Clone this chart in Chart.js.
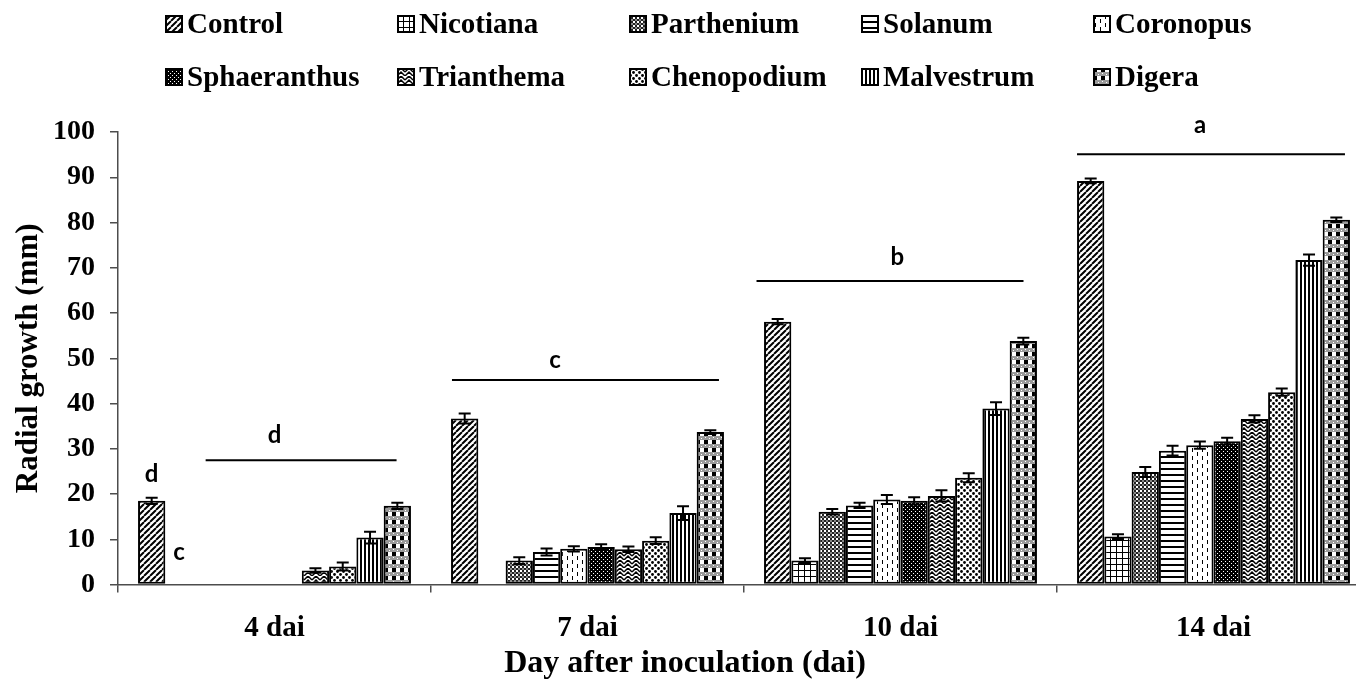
<!DOCTYPE html>
<html>
<head>
<meta charset="utf-8">
<script src="https://cdn.jsdelivr.net/npm/chart.js@4.4.1/dist/chart.umd.min.js"></script>
<style>
html,body{margin:0;padding:0;background:#fff;overflow:hidden;width:1356px;height:683px;}
#wrap{position:relative;width:1380px;height:683px;}
#chart{position:absolute;left:0;top:0;}
#legend{position:absolute;left:165px;top:-3px;display:grid;grid-template-columns:repeat(5,232px);grid-auto-rows:53px;z-index:2;}
.li{display:flex;align-items:center;white-space:nowrap;font:bold 29px "Liberation Serif","Times New Roman",serif;color:#000;}
.li canvas{margin-right:4px;display:block;}
</style>
</head>
<body>
<div id="wrap">
  <div id="legend"></div>
  <canvas id="chart" width="1380" height="683"></canvas>
</div>
<script>
// ---------------- DATA ----------------
const categories = ['4 dai', '7 dai', '10 dai', '14 dai'];
const seriesNames = ['Control','Nicotiana','Parthenium','Solanum','Coronopus','Sphaeranthus','Trianthema','Chenopodium','Malvestrum','Digera'];

const control      = [18.5, 36.7, 58.1, 89.2];
const nicotiana    = [0,    0,    5.3,  10.6];
const parthenium   = [0,    5.3,  16.1, 24.9];
const solanum      = [0,    7.2,  17.5, 29.6];
const coronopus    = [0,    7.9,  18.8, 30.8];
const sphaeranthus = [0,    8.3,  18.5, 31.7];
const trianthema   = [3.1,  7.8,  19.6, 36.6];
const chenopodium  = [4.0,  9.7,  23.6, 42.5];
const malvestrum   = [10.4, 15.8, 38.9, 71.7];
const digera       = [17.4, 33.7, 53.8, 80.6];

const controlErr      = [0.7, 1.1, 0.6, 0.5];
const nicotianaErr    = [0,   0,   0.5, 0.5];
const partheniumErr   = [0,   0.75,0.6, 1.1];
const solanumErr      = [0,   0.75,0.6, 1.1];
const coronopusErr    = [0,   0.6, 1.0, 0.8];
const sphaeranthusErr = [0,   0.6, 0.8, 0.75];
const trianthemaErr   = [0.5, 0.6, 1.25,0.8];
const chenopodiumErr  = [0.9, 0.75,1.0, 0.8];
const malvestrumErr   = [1.3, 1.5, 1.4, 1.25];
const digeraErr       = [0.7, 0.4, 0.75,0.5];

const yTickValues = [0,10,20,30,40,50,60,70,80,90,100];

// significance letters (y values in data units)
const groupLetters      = ['d', 'c', 'b', 'a'];
const groupLineValues   = [27.5, 45.2, 67.1, 95.1];
const groupLetterValues = [31.3, 47.8, 70.6, 99.7];
const barLetters      = ['d', 'c'];          // over 4 dai Control / Nicotiana
const barLetterValues = [22.6, 5.4];

// ---------------- LAYOUT / STYLE ----------------
const seriesValues = [control,nicotiana,parthenium,solanum,coronopus,sphaeranthus,trianthema,chenopodium,malvestrum,digera];
const seriesErrors = [controlErr,nicotianaErr,partheniumErr,solanumErr,coronopusErr,sphaeranthusErr,trianthemaErr,chenopodiumErr,malvestrumErr,digeraErr];
const patternKinds = ['diag','grid','check','hlines','dashes','darkdots','zigzag','dots','vlines','plaid'];
const lineSpans = [[-0.22,0.39],[-0.433,0.42],[-0.46,0.393],[-0.436,0.42]];
const letterShift = [0,-0.104,-0.01,-0.043];
const barLetterSeries = [0,1];
const SERIF = '"Liberation Serif","Times New Roman",serif';

function drawTile(kind){
  const c = document.createElement('canvas');
  const sizes = {diag:[6,6],grid:[6,6],check:[4,4],hlines:[4,6],dashes:[10,8],darkdots:[4,4],zigzag:[8,8],dots:[6,6],vlines:[4,2],plaid:[8,8]};
  const [w,h] = sizes[kind];
  c.width=w; c.height=h;
  const g=c.getContext('2d');
  g.fillStyle='#fff'; g.fillRect(0,0,w,h);
  g.fillStyle='#000'; g.strokeStyle='#000';
  switch(kind){
    case 'diag':
      g.lineWidth=2;
      g.beginPath();
      for(const k of [-6,0,6]){ g.moveTo(k,6); g.lineTo(k+6,0); }
      g.stroke(); break;
    case 'grid':
      g.fillRect(0,0,6,1); g.fillRect(0,0,1,6); break;
    case 'check':
      g.fillStyle='#222'; g.fillRect(0,0,2,2); g.fillRect(2,2,2,2);
      g.fillStyle='#888'; g.fillRect(2,0,2,2); break;
    case 'hlines':
      g.fillRect(0,0,4,2); break;
    case 'dashes':
      g.fillRect(2,0,1,4); g.fillRect(7,4,1,4); break;
    case 'darkdots':
      g.fillRect(0,0,4,4); g.fillStyle='#fff'; g.fillRect(1,1,1,1); g.fillRect(3,3,1,1); break;
    case 'zigzag':
      g.lineWidth=1.5; g.beginPath();
      g.moveTo(0,4); g.lineTo(4,0); g.lineTo(8,4);
      g.moveTo(0,8); g.lineTo(4,4); g.lineTo(8,8);
      g.stroke(); break;
    case 'dots':
      g.beginPath(); g.arc(1.5,1.5,1.4,0,Math.PI*2); g.fill();
      g.beginPath(); g.arc(4.5,4.5,1.4,0,Math.PI*2); g.fill(); break;
    case 'vlines':
      g.fillRect(0,0,2,2); break;
    case 'plaid':
      g.fillStyle='#9a9a9a'; g.fillRect(0,0,8,8);
      g.fillStyle='#000'; g.fillRect(0,0,4,4);
      g.fillStyle='#fff'; g.fillRect(4,0,4,4);
      g.fillStyle='#fff'; g.fillRect(1,5,1,1); g.fillRect(5,6,1,1); break;
  }
  return c;
}

const mainCtx = document.getElementById('chart').getContext('2d');
const patterns = patternKinds.map(k => mainCtx.createPattern(drawTile(k),'repeat'));

const datasets = seriesNames.map((name,i)=>({
  label: name,
  data: seriesValues[i],
  errors: seriesErrors[i],
  backgroundColor: patterns[i],
  borderColor: '#000',
  borderWidth: 2,
  borderSkipped: false,
  patternKind: patternKinds[i]
}));

const errorBarPlugin = {
  id:'errorBars',
  afterDatasetsDraw(chart){
    const ctx=chart.ctx, y=chart.scales.y;
    ctx.save();
    ctx.strokeStyle='#000'; ctx.lineWidth=2;
    chart.data.datasets.forEach((ds,i)=>{
      const meta=chart.getDatasetMeta(i);
      meta.data.forEach((el,j)=>{
        const v=ds.data[j], e=ds.errors[j];
        if(!e) return;
        const x=el.x, t=y.getPixelForValue(v+e), b=y.getPixelForValue(v-e), hw=6;
        ctx.beginPath();
        ctx.moveTo(x,t); ctx.lineTo(x,b);
        ctx.moveTo(x-hw,t); ctx.lineTo(x+hw,t);
        ctx.moveTo(x-hw,b); ctx.lineTo(x+hw,b);
        ctx.stroke();
      });
    });
    ctx.restore();
  }
};

const lettersPlugin = {
  id:'sigLetters',
  afterDatasetsDraw(chart){
    const ctx=chart.ctx, xs=chart.scales.x, ys=chart.scales.y;
    const cw = xs.getPixelForValue(1)-xs.getPixelForValue(0);
    ctx.save();
    ctx.strokeStyle='#000'; ctx.fillStyle='#000'; ctx.lineWidth=2;
    ctx.font='bold 24px Lato, "Open Sans", sans-serif';
    ctx.textAlign='center'; ctx.textBaseline='alphabetic';
    categories.forEach((c,i)=>{
      const cx=xs.getPixelForValue(i);
      const ly=ys.getPixelForValue(groupLineValues[i]);
      ctx.beginPath();
      ctx.moveTo(cx+lineSpans[i][0]*cw, ly);
      ctx.lineTo(cx+lineSpans[i][1]*cw, ly);
      ctx.stroke();
      ctx.fillText(groupLetters[i], cx+letterShift[i]*cw, ys.getPixelForValue(groupLetterValues[i]));
    });
    barLetters.forEach((t,k)=>{
      const el=chart.getDatasetMeta(barLetterSeries[k]).data[0];
      ctx.fillText(t, el.x, ys.getPixelForValue(barLetterValues[k]));
    });
    ctx.restore();
  }
};

const htmlLegendPlugin = {
  id:'htmlLegend',
  afterInit(chart){
    const box=document.getElementById('legend');
    box.innerHTML='';
    chart.data.datasets.forEach(ds=>{
      const item=document.createElement('div'); item.className='li';
      const sw=document.createElement('canvas'); sw.width=18; sw.height=18;
      const g=sw.getContext('2d');
      g.fillStyle=g.createPattern(drawTile(ds.patternKind),'repeat');
      g.fillRect(0,0,18,18);
      g.strokeStyle='#000'; g.lineWidth=2; g.strokeRect(1,1,16,16);
      const tx=document.createElement('span'); tx.textContent=ds.label;
      item.appendChild(sw); item.appendChild(tx); box.appendChild(item);
    });
  }
};

new Chart(mainCtx, {
  type:'bar',
  data:{labels:categories, datasets},
  plugins:[errorBarPlugin, lettersPlugin, htmlLegendPlugin],
  options:{
    responsive:false,
    animation:false,
    layout:{padding:{top:132,right:10,left:0,bottom:0}},
    datasets:{bar:{categoryPercentage:0.872,barPercentage:1}},
    plugins:{
      legend:{display:false},
      tooltip:{enabled:false},
      title:{display:true,position:'bottom',text:'Day after inoculation (dai)',color:'#000',
        font:{family:SERIF,size:32,weight:'bold'},padding:{top:2,bottom:0}}
    },
    scales:{
      x:{
        ticks:{color:'#000',font:{family:SERIF,size:29,weight:'bold'},padding:19},
        grid:{offset:true,drawOnChartArea:false,drawTicks:true,tickLength:8,color:'#4d4d4d',lineWidth:1.5},
        border:{display:true,color:'#4d4d4d',width:1.5},
        afterFit(s){ s.height=58; }
      },
      y:{
        min:0,max:100,
        afterBuildTicks(s){ s.ticks = yTickValues.map(v=>({value:v})); },
        ticks:{color:'#000',font:{family:SERIF,size:28,weight:'bold'},padding:15},
        grid:{drawOnChartArea:false,drawTicks:true,tickLength:8,color:'#4d4d4d',lineWidth:1.5},
        border:{display:true,color:'#4d4d4d',width:1.5},
        title:{display:true,text:'Radial growth (mm)',color:'#000',font:{family:SERIF,size:31,weight:'bold'},padding:{top:10,bottom:0}},
        afterFit(s){ s.width=118; }
      }
    }
  }
});
</script>
</body>
</html>
